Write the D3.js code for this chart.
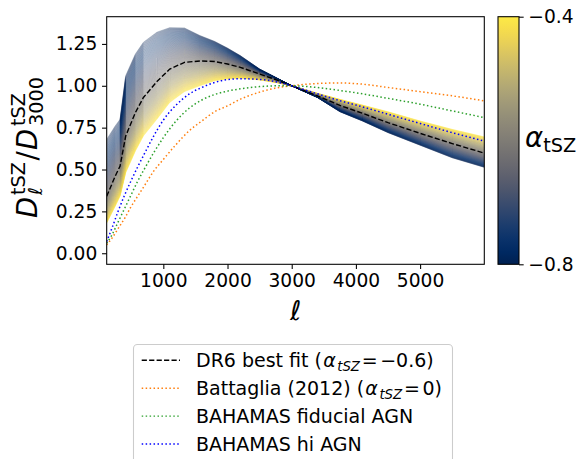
<!DOCTYPE html>
<html><head><meta charset="utf-8">
<script src="https://cdn.jsdelivr.net/npm/d3@7"></script>
<style>body{margin:0;background:#fff}svg{display:block;font-family:"DejaVu Sans",sans-serif}</style>
</head><body>
<svg id="c" width="576" height="459"></svg>
<script>
// ---- data ----
const ellTemplate = [118, 250, 326, 414, 565, 690, 900, 1100, 1330, 1570, 1800, 2000, 2200, 2500, 2750, 3000, 3400, 3750, 4100, 4500, 5000, 5500, 6000];
const bandAlphaLow  = [0.68, 0.76, 0.80, 1.06, 1.19, 1.26, 1.32, 1.347, 1.345, 1.30, 1.265, 1.225, 1.18, 1.10, 1.05, 1.0, 0.93, 0.845, 0.79, 0.72, 0.645, 0.57, 0.513]; // alpha = -0.8
const bandAlphaHigh = [0.18, 0.28, 0.34, 0.48, 0.61, 0.70, 0.80, 0.90, 0.965, 1.0, 1.03, 1.04, 1.045, 1.035, 1.02, 1.0, 0.955, 0.919, 0.885, 0.845, 0.79, 0.74, 0.695]; // alpha = -0.4
const dr6BestFit    = [0.34, 0.46, 0.52, 0.70, 0.84, 0.93, 1.025, 1.10, 1.14, 1.148, 1.145, 1.13, 1.11, 1.07, 1.037, 1.0, 0.94, 0.883, 0.836, 0.78, 0.716, 0.655, 0.598]; // alpha = -0.6
const alphaRange = [-0.8, -0.4];

const ellModels = [118, 200, 300, 400, 500, 600, 700, 850, 1000, 1200, 1400, 1600, 1800, 2000, 2200, 2500, 2800, 3000, 3250, 3500, 3750, 4000, 4500, 5000, 5500, 6000];
const battaglia = [0.05, 0.09, 0.15, 0.21, 0.28, 0.34, 0.40, 0.49, 0.56, 0.65, 0.73, 0.79, 0.845, 0.88, 0.92, 0.962, 0.99, 1.0, 1.01, 1.015, 1.017, 1.013, 0.99, 0.965, 0.94, 0.91];
const bahamasFid = [0.06, 0.11, 0.19, 0.27, 0.35, 0.43, 0.50, 0.60, 0.69, 0.79, 0.865, 0.915, 0.948, 0.968, 0.982, 0.995, 1.0, 1.0, 0.995, 0.985, 0.972, 0.958, 0.925, 0.89, 0.85, 0.81];
const bahamasHi  = [0.07, 0.15, 0.255, 0.35, 0.435, 0.515, 0.59, 0.70, 0.795, 0.885, 0.95, 0.99, 1.02, 1.037, 1.042, 1.038, 1.02, 1.0, 0.97, 0.94, 0.911, 0.885, 0.83, 0.775, 0.72, 0.67];

const xTicks = [1000, 2000, 3000, 4000, 5000];
const yTicks = [0, 0.25, 0.5, 0.75, 1.0, 1.25];
const cbTicks = [-0.8, -0.4];
const legendLabels = ["DR6 best fit (", "Battaglia (2012) (", "BAHAMAS fiducial AGN", "BAHAMAS hi AGN"];
const legendAlpha = ["−0.6)", "0)"];

// ---- layout ----
const svg = d3.select("#c");
const L = 106.7, R = 484.3, T = 16.7, B = 264.3;
const x = d3.scaleLinear().domain([118, 6000]).range([L, R]);
const y = d3.scaleLinear().domain([-0.066, 1.4125]).range([B, T]);
const FS = 18.67, LFS = 19;
const defs = svg.append("defs");
defs.append("clipPath").attr("id", "clip")
  .append("rect").attr("x", L).attr("y", T).attr("width", R - L).attr("height", B - T);
const plot = svg.append("g").attr("clip-path", "url(#clip)");

// band of alpha curves, shaded between the read alpha=-0.8, -0.6, -0.4 curves
const cmap = d3.scaleSequential(d3.interpolateCividis).domain(alphaRange);
const N = 200;
const lineT = d3.line().x(d => x(d[0])).y(d => y(d[1]));
for (let k = N; k >= 0; k--) {
  const t = k / N;
  const a = alphaRange[0] + t * (alphaRange[1] - alphaRange[0]);
  const pts = ellTemplate.map((l, i) => {
    let v;
    if (t <= 0.5) { const s = t / 0.5; v = Math.pow(bandAlphaLow[i], 1 - s) * Math.pow(dr6BestFit[i], s); }
    else { const s = (t - 0.5) / 0.5; v = Math.pow(dr6BestFit[i], 1 - s) * Math.pow(bandAlphaHigh[i], s); }
    return [l, v];
  });
  plot.append("path").attr("d", lineT(pts)).attr("fill", "none")
    .attr("stroke", cmap(a)).attr("stroke-width", 0.24);
}

// model lines
const lineM = d3.line().x(d => x(d[0])).y(d => y(d[1])).curve(d3.curveMonotoneX);
const series = [
  {ell: ellTemplate, v: dr6BestFit, color: "#000000", dash: "5.2,2.25", w: 1.4, curve: lineT},
  {ell: ellModels, v: battaglia, color: "#ff7f0e", dash: "1.5,2.45", w: 1.5, curve: lineM},
  {ell: ellModels, v: bahamasFid, color: "#2ca02c", dash: "1.5,2.45", w: 1.5, curve: lineM},
  {ell: ellModels, v: bahamasHi, color: "#0000ff", dash: "1.5,2.45", w: 1.5, curve: lineM}
];
series.forEach(s => {
  plot.append("path").attr("d", s.curve(s.ell.map((l, i) => [l, s.v[i]])))
    .attr("fill", "none").attr("stroke", s.color).attr("stroke-width", s.w)
    .attr("stroke-dasharray", s.dash);
});

// axes
const xAxis = svg.append("g").attr("transform", `translate(0,${B})`)
  .call(d3.axisBottom(x).tickValues(xTicks).tickSize(4.67).tickPadding(4.67).tickFormat(d3.format("d")));
const yAxis = svg.append("g").attr("transform", `translate(${L},0)`)
  .call(d3.axisLeft(y).tickValues(yTicks).tickSize(4.67).tickPadding(4.67).tickFormat(d3.format(".2f")));
[xAxis, yAxis].forEach(g => {
  g.select(".domain").remove();
  g.selectAll("line").attr("stroke", "#000").attr("stroke-width", 1.07);
  g.selectAll("text").attr("font-size", FS).attr("font-family", "DejaVu Sans").attr("fill", "#000");
});
svg.append("rect").attr("x", L).attr("y", T).attr("width", R - L).attr("height", B - T)
  .attr("fill", "none").attr("stroke", "#000").attr("stroke-width", 1.07);

// x label
svg.append("text").attr("x", (L + R) / 2).attr("y", 320).attr("text-anchor", "middle")
  .attr("font-size", 27).attr("font-style", "italic").text("ℓ");

// y label (rotated)
const yl = svg.append("g").attr("transform", "translate(36.5,218) rotate(-90)")
  .attr("font-size", 27.5).attr("fill", "#000");
const SS = 19.3;
yl.append("text").attr("x", 0).attr("y", 0).attr("font-style", "italic").text("D");
yl.append("text").attr("x", 23).attr("y", -11.5).attr("font-size", SS).text("tSZ");
yl.append("text").attr("x", 23).attr("y", 5).attr("font-size", SS).attr("font-style", "italic").text("ℓ");
yl.append("text").attr("x", 57.5).attr("y", 0).text("/");
yl.append("text").attr("x", 68).attr("y", 0).attr("font-style", "italic").text("D");
yl.append("text").attr("x", 92).attr("y", -11.5).attr("font-size", SS).text("tSZ");
yl.append("text").attr("x", 92).attr("y", 6).attr("font-size", SS).text("3000");

// colorbar
const CL = 498, CR = 519;
const cy = d3.scaleLinear().domain(alphaRange).range([B, T]);
const grad = defs.append("linearGradient").attr("id", "cb")
  .attr("x1", 0).attr("y1", 1).attr("x2", 0).attr("y2", 0);
d3.range(0, 1.0001, 0.05).forEach(t => {
  grad.append("stop").attr("offset", t).attr("stop-color", d3.interpolateCividis(t));
});
svg.append("rect").attr("x", CL).attr("y", T).attr("width", CR - CL).attr("height", B - T)
  .attr("fill", "url(#cb)").attr("stroke", "#000").attr("stroke-width", 1.07);
const cbAxis = svg.append("g").attr("transform", `translate(${CR},0)`)
  .call(d3.axisRight(cy).tickValues(cbTicks).tickSize(4.67).tickPadding(4.67)
    .tickFormat(d => d3.format(".1f")(d).replace("-", "−")));
cbAxis.select(".domain").remove();
cbAxis.selectAll("line").attr("stroke", "#000").attr("stroke-width", 1.07);
cbAxis.selectAll("text").attr("font-size", FS).attr("font-family", "DejaVu Sans").attr("fill", "#000");
const cbl = svg.append("text").attr("x", 525).attr("y", 147).attr("font-size", 27.5);
cbl.append("tspan").attr("font-style", "italic").text("α");
cbl.append("tspan").attr("font-size", SS).attr("dy", 5).text("tSZ");

// legend
const lg = svg.append("g");
lg.append("rect").attr("x", 133.5).attr("y", 344.5).attr("width", 319).attr("height", 140).attr("rx", 4)
  .attr("fill", "#fff").attr("fill-opacity", 0.8).attr("stroke", "#cccccc").attr("stroke-width", 1.07);
series.forEach((s, i) => {
  const cyR = 360.3 + i * 27.9;
  const by = cyR + 6.9;
  lg.append("line").attr("x1", 141.7).attr("x2", 180).attr("y1", cyR).attr("y2", cyR)
    .attr("stroke", s.color).attr("stroke-width", 1.4).attr("stroke-dasharray", s.dash);
  const pre = lg.append("text").attr("x", 196).attr("y", by).attr("font-size", LFS).text(legendLabels[i]);
  if (i < 2) {
    let cx = 196 + pre.node().getComputedTextLength() + 1.2;
    const a = lg.append("text").attr("x", cx).attr("y", by).attr("font-size", LFS).attr("font-style", "italic").text("α");
    cx += a.node().getComputedTextLength() + 1.5;
    const sub = lg.append("text").attr("x", cx).attr("y", by + 4).attr("font-size", 13.3).attr("font-style", "italic").text("tSZ");
    cx += sub.node().getComputedTextLength() + 1.8;
    const eq = lg.append("text").attr("x", cx).attr("y", by).attr("font-size", LFS).text("=");
    cx += eq.node().getComputedTextLength() + 2.5;
    lg.append("text").attr("x", cx).attr("y", by).attr("font-size", LFS).text(legendAlpha[i]);
  }
});
</script>
</body></html>
